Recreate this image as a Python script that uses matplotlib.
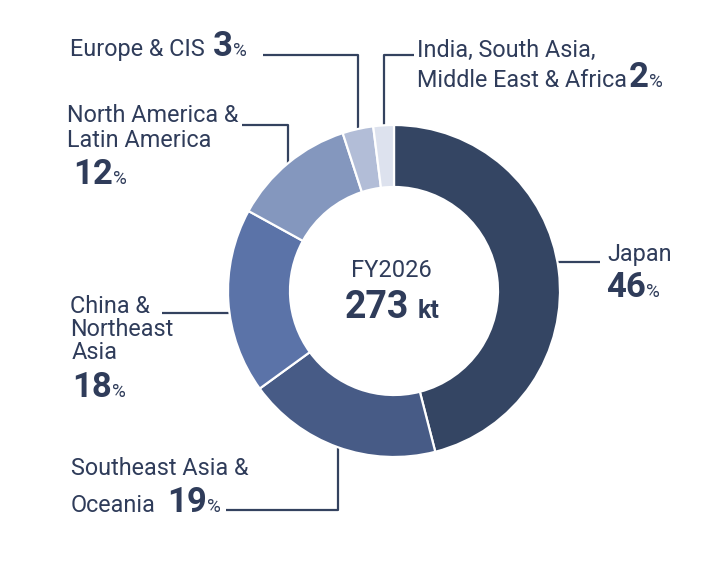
import numpy as np
import matplotlib
matplotlib.use("Agg")
import matplotlib.pyplot as plt

# --- data -------------------------------------------------------------------
regions = ["Japan", "Southeast Asia & Oceania", "China & Northeast Asia",
           "North America & Latin America", "Europe & CIS",
           "India, South Asia, Middle East & Africa"]
shares = [46, 19, 18, 12, 3, 2]
colors = ["#344563", "#475b86", "#5b73a8", "#8497be", "#b2bdd7", "#dde2ee"]
center_year = "FY2026"
center_total = "273"
center_unit = "kt"

W, H = 710, 575
TXT = "#2f3c5a"
LINE = "#34425f"
FONT = "Roboto"

plt.rcParams["font.family"] = [FONT, "DejaVu Sans"]

fig = plt.figure(figsize=(W / 100, H / 100), dpi=100)
ax = fig.add_axes([0, 0, 1, 1])

cx, cy = 394, H - 291
R, ring = 166, 62

wedges, _ = ax.pie(shares, colors=colors, startangle=90, counterclock=False,
                   radius=R, center=(cx, cy),
                   wedgeprops=dict(width=ring, edgecolor="white", linewidth=1.6))
ax.set_xlim(0, W)
ax.set_ylim(0, H)
ax.set_aspect("equal")
ax.axis("off")

renderer = fig.canvas.get_renderer()


def py(y):
    return H - y


def mid_point(i):
    w = wedges[i]
    a = np.deg2rad((w.theta1 + w.theta2) / 2)
    return cx + R * np.cos(a), cy + R * np.sin(a)


def edge_at(y):
    # horizontal distance from centre to the outer circle at a given height
    dy = py(y) - cy
    return np.sqrt(R ** 2 - dy ** 2)


def line(xs, ys):
    ax.plot(xs, [py(v) for v in ys], color=LINE, lw=1.6, zorder=0,
            solid_capstyle="butt")


def row(x, y, parts):
    """Draw text pieces one after the other on a common baseline."""
    for s, size, weight, gap in parts:
        x += gap
        t = ax.text(x, py(y), s, fontsize=size, fontweight=weight, color=TXT,
                    ha="left", va="baseline")
        x += t.get_window_extent(renderer).width
    return x


LBL, NUM, PCT = 16.8, 25, 13.5

# Japan
line([cx + edge_at(262) - 4, 600], [262, 262])
row(607, 261, [("Japan", LBL, "normal", 0)])
row(606, 297, [(str(shares[0]), NUM, "bold", 0), ("%", PCT, "normal", 0)])

# Southeast Asia & Oceania
x0, y0 = mid_point(1)
line([x0, x0, 226], [py(y0) - 4, 510, 510])
row(71, 475, [("Southeast Asia &", LBL, "normal", 0)])
row(71, 512, [("Oceania", LBL, "normal", 0), (str(shares[1]), NUM, "bold", 11),
              ("%", PCT, "normal", 0)])

# China & Northeast Asia
line([cx - edge_at(313) + 4, 162], [313, 313])
row(70, 313, [("China &", LBL, "normal", 0)])
row(70, 336, [("Northeast", LBL, "normal", 0)])
row(72, 359, [("Asia", LBL, "normal", 0)])
row(72, 397, [(str(shares[2]), NUM, "bold", 0), ("%", PCT, "normal", 0)])

# North America & Latin America
x0, y0 = mid_point(3)
line([x0, x0, 242], [py(y0) + 4, 125, 125])
row(67, 122, [("North America &", LBL, "normal", 0)])
row(67, 147, [("Latin America", LBL, "normal", 0)])
row(73, 184, [(str(shares[3]), NUM, "bold", 0), ("%", PCT, "normal", 0)])

# Europe & CIS
x0, y0 = mid_point(4)
line([x0, x0, 263], [py(y0) + 4, 55, 55])
row(70, 56, [("Europe & CIS", LBL, "normal", 0), (str(shares[4]), NUM, "bold", 8),
             ("%", PCT, "normal", 0)])

# India, South Asia, Middle East & Africa
x0, y0 = mid_point(5)
line([x0, x0, 414], [py(y0) + 4, 55, 55])
row(417, 57, [("India, South Asia,", LBL, "normal", 0)])
row(417, 87, [("Middle East & Africa", LBL, "normal", 0),
              (str(shares[5]), NUM, "bold", 2), ("%", PCT, "normal", 0)])

# centre text
ax.text(391, py(277), center_year, fontsize=17, color=TXT, ha="center",
        va="baseline")
t1 = ax.text(0, py(318), center_total, fontsize=27, fontweight="bold",
             color=TXT, ha="left", va="baseline")
t2 = ax.text(0, py(318), center_unit, fontsize=18, fontweight="bold",
             color=TXT, ha="left", va="baseline")
w1 = t1.get_window_extent(renderer).width
w2 = t2.get_window_extent(renderer).width
gap = 9
start = 392 - (w1 + gap + w2) / 2
t1.set_x(start)
t2.set_x(start + w1 + gap)

fig.savefig("out.png", dpi=100)
